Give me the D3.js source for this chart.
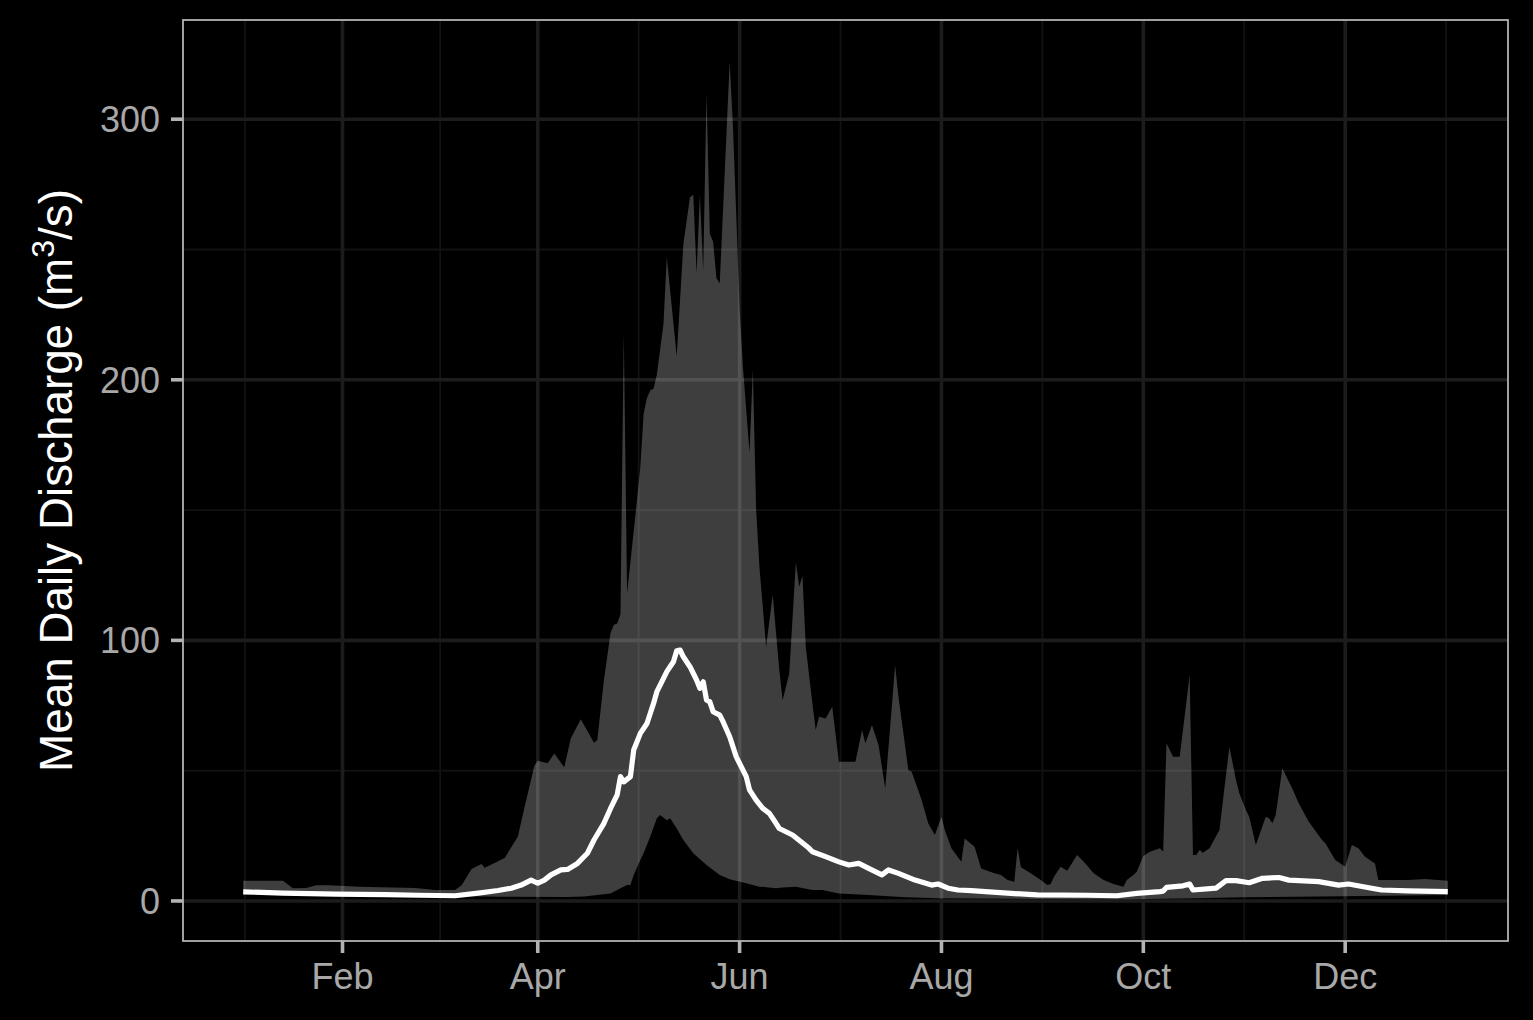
<!DOCTYPE html>
<html><head><meta charset="utf-8">
<script src="https://cdn.jsdelivr.net/npm/d3@7"></script>
<style>html,body{margin:0;padding:0;background:#000;} svg{display:block;}</style>
</head><body>
<svg id="chart" width="1533" height="1020"></svg>
<script>
// ---- data (day of year, value in m3/s) ----
const year = 2001;
const maxDays = [2,14,17,21,24,28,37,54,60,66,68,71,74,75,81,85,87,90,91,94,96,99,101,104,108,109,111,113,114,115,116,117,118,120,121,122,123,124,125,126,127,129,130,133,135,137,138,139,140,141,142,143,144,145,146,149,150,151,152,153,155,156,157,158,159,160,162,164,165,167,169,170,171,172,174,175,176,178,180,182,187,189,190,192,194,196,199,200,203,204,207,209,211,213,214,216,219,220,223,225,229,231,233,235,236,237,240,243,245,246,247,249,251,254,256,259,262,265,268,269,271,272,274,276,279,280,281,283,285,288,289,290,291,292,294,297,300,302,303,305,306,308,311,312,313,314,316,318,319,321,324,328,329,332,335,337,339,341,344,345,354,359,366];
const maxVals = [7.8,7.8,4.9,5.0,6.0,6.0,5.5,5.0,4.2,4.2,6.0,12.3,14.2,12.7,16.5,24.7,36,52,53.8,52.8,56.6,51.3,62.4,69.7,60.7,61.8,84.8,102.8,106,106.5,110,218,118,142,154,166.6,187,193,196,196.6,202,221.5,247,209,252,270,271,241,271,242,310,256,253,239,237,322,297,262.5,227,205,172,204,150,128,113,97.5,117.4,88.6,77,87.3,130,120.6,124.7,97.5,75.8,65.6,70.7,70,74.5,53.4,53.4,65.6,60.5,67.5,59.8,43.2,90.5,78.4,50.2,49.6,38.7,29.8,25.3,32.3,27.2,20.2,15,24,20.8,12.5,10.6,10,8,7.4,20.2,12.9,10.6,8,6.1,6.5,9.3,13.1,11.6,17.6,15,10.6,8,6.5,5.5,8,10,11.2,17.3,18.9,20.2,18.9,60.5,55.3,55.3,86.7,17.6,17.6,19.6,18.5,20.2,27.2,59.2,46.4,41.3,34.9,32.3,21.5,32.3,31.7,29.8,33,50.9,45.7,43.2,37.4,30.4,23.4,22.1,15.7,13.1,21.5,20.2,17,14.4,8,8,8.4,7.8];

const minDays = [2,30,60,80,100,105,109,113,116,118,119,120,122,123,125,127,128,130,131,133,135,138,142,146,149,154,158,163,165,169,174,177,182,191,202,212,240,270,290,304,334,366];
const minVals = [2.6,2.4,2.0,1.6,1.5,1.7,2.3,2.9,4.9,6.1,6.1,10,15.7,18.3,24.7,31.7,33,31,31.7,27.8,23.4,18.3,13.8,10,8.3,6.8,5.5,4.9,5.2,5.5,4.2,4.2,2.9,2.3,1.4,1.0,0.8,0.7,1.0,1.4,1.8,2.3];

const meanDays = [2,14,30,45,55,66,73,79,83,86,89,91,93,95,98,100,103,106,108,111,113,115,116,117,119,120,122,124,126,127,129,130,132,133,134,135,137,139,140,141,142,143,144,146,147,149,151,154,155,157,159,161,163,164,168,173,174,178,182,185,188,191,195,197,200,205,210,212,215,218,222,234,242,257,266,272,279,280,281,286,288,289,296,299,302,306,310,315,318,327,333,336,343,346,354,366];
const meanVals = [3.5,3.0,2.6,2.4,2.2,2.0,3.0,4.0,4.9,6.1,8,6.8,8,10,11.9,12.1,14.4,18.3,23.4,29.8,35.5,40.7,47.7,45.7,47.7,57.9,64.3,68.1,75.8,80.3,85.4,88,91.8,96,96.3,93.7,89.9,84.8,81.6,84.1,77.1,76.4,72.6,71.3,68.8,63,55.3,47.7,42.6,38.7,35.5,33.6,29.8,27.8,25.3,20.2,18.9,17,15,13.8,14.4,12.5,10,11.9,10.6,8,6.1,6.5,4.9,4.2,4.0,2.9,2.3,2.2,2.0,2.9,3.6,3.8,5.2,5.8,6.5,4.2,4.9,7.8,7.8,7,8.7,9,8,7.4,6.1,6.5,4.9,4.2,3.9,3.6];

const yTicks = [0, 100, 200, 300];
const yMinorTicks = [50, 150, 250];
const xTickMonths = [1, 3, 5, 7, 9, 11];
const xTickLabels = ["Feb", "Apr", "Jun", "Aug", "Oct", "Dec"];
const yTitle = "Mean Daily Discharge (m";

// ---- layout ----
const panel = {left: 183, right: 1508, top: 20, bottom: 941};
const svg = d3.select("#chart");
svg.append("rect").attr("width", 1533).attr("height", 1020).attr("fill", "#000");

const toDate = d => new Date(year, 0, d);
const allDays = maxDays.concat(minDays, meanDays);
const t0 = toDate(d3.min(allDays)).getTime();
const t1 = toDate(d3.max(allDays)).getTime();
const tPad = (t1 - t0) * 0.05;
const x = d3.scaleTime().domain([new Date(t0 - tPad), new Date(t1 + tPad)]).range([panel.left, panel.right]);

const v0 = d3.min(minVals), v1 = d3.max(maxVals);
const vPad = (v1 - v0) * 0.05;
const y = d3.scaleLinear().domain([v0 - vPad, v1 + vPad]).range([panel.bottom, panel.top]);

// ---- grid ----
const xMajor = xTickMonths.map(m => new Date(year, m, 1));
const xMinor = [];
xMinor.push(new Date(xMajor[0].getTime() - (xMajor[1] - xMajor[0]) / 2));
for (let i = 0; i < xMajor.length - 1; i++) xMinor.push(new Date((xMajor[i].getTime() + xMajor[i + 1].getTime()) / 2));
const nL = xMajor.length;
xMinor.push(new Date(xMajor[nL - 1].getTime() + (xMajor[nL - 1] - xMajor[nL - 2]) / 2));

const grid = svg.append("g");
grid.selectAll(".ymin").data(yMinorTicks).join("line")
  .attr("x1", panel.left).attr("x2", panel.right)
  .attr("y1", d => y(d)).attr("y2", d => y(d))
  .attr("stroke", "#121212").attr("stroke-width", 1.8);
grid.selectAll(".xmin").data(xMinor.filter(d => x(d) > panel.left && x(d) < panel.right)).join("line")
  .attr("y1", panel.top).attr("y2", panel.bottom)
  .attr("x1", d => x(d)).attr("x2", d => x(d))
  .attr("stroke", "#121212").attr("stroke-width", 1.8);
grid.selectAll(".ymaj").data(yTicks).join("line")
  .attr("x1", panel.left).attr("x2", panel.right)
  .attr("y1", d => y(d)).attr("y2", d => y(d))
  .attr("stroke", "#1c1c1c").attr("stroke-width", 3.6);
grid.selectAll(".xmaj").data(xMajor).join("line")
  .attr("y1", panel.top).attr("y2", panel.bottom)
  .attr("x1", d => x(d)).attr("x2", d => x(d))
  .attr("stroke", "#1c1c1c").attr("stroke-width", 3.6);

// ---- ribbon (min to max) ----
const upper = maxDays.map((d, i) => [x(toDate(d)), y(maxVals[i])]);
const lower = minDays.map((d, i) => [x(toDate(d)), y(minVals[i])]).reverse();
svg.append("path")
  .attr("d", d3.line()(upper.concat(lower)) + "Z")
  .attr("fill", "#ffffff").attr("fill-opacity", 0.245);

// ---- mean line ----
const meanLine = d3.line().x(d => x(toDate(d[0]))).y(d => y(d[1]));
svg.append("path")
  .attr("d", meanLine(meanDays.map((d, i) => [d, meanVals[i]])))
  .attr("fill", "none").attr("stroke", "#fff").attr("stroke-width", 5.2)
  .attr("stroke-linejoin", "round");

// ---- border ----
svg.append("rect")
  .attr("x", panel.left).attr("y", panel.top)
  .attr("width", panel.right - panel.left).attr("height", panel.bottom - panel.top)
  .attr("fill", "none").attr("stroke", "#bdbdbd").attr("stroke-width", 1.7);

// ---- axes ----
const font = "'Liberation Sans', Arial, Helvetica, sans-serif";
const tickCol = "#b3b3b3", labCol = "#a8a8a8";
const xa = svg.append("g");
xa.selectAll("line").data(xMajor).join("line")
  .attr("x1", d => x(d)).attr("x2", d => x(d))
  .attr("y1", panel.bottom).attr("y2", panel.bottom + 12)
  .attr("stroke", tickCol).attr("stroke-width", 3.6);
xa.selectAll("text").data(xMajor).join("text")
  .attr("x", d => x(d)).attr("y", 989)
  .attr("text-anchor", "middle").attr("fill", labCol)
  .attr("font-family", font).attr("font-size", 36)
  .text((d, i) => xTickLabels[i]);

const ya = svg.append("g");
ya.selectAll("line").data(yTicks).join("line")
  .attr("x1", panel.left - 12).attr("x2", panel.left)
  .attr("y1", d => y(d)).attr("y2", d => y(d))
  .attr("stroke", tickCol).attr("stroke-width", 3.6);
ya.selectAll("text").data(yTicks).join("text")
  .attr("x", 160).attr("y", d => y(d) + 13)
  .attr("text-anchor", "end").attr("fill", labCol)
  .attr("font-family", font).attr("font-size", 36)
  .text(d => d);

const title = svg.append("text")
  .attr("transform", `translate(72,${(panel.top + panel.bottom) / 2}) rotate(-90)`)
  .attr("text-anchor", "middle").attr("fill", "#fff")
  .attr("font-family", font).attr("font-size", 45.8);
title.append("tspan").text(yTitle);
title.append("tspan").attr("font-size", 32).attr("dy", -18).text("3");
title.append("tspan").attr("dy", 18).text("/s)");
</script>
</body></html>
